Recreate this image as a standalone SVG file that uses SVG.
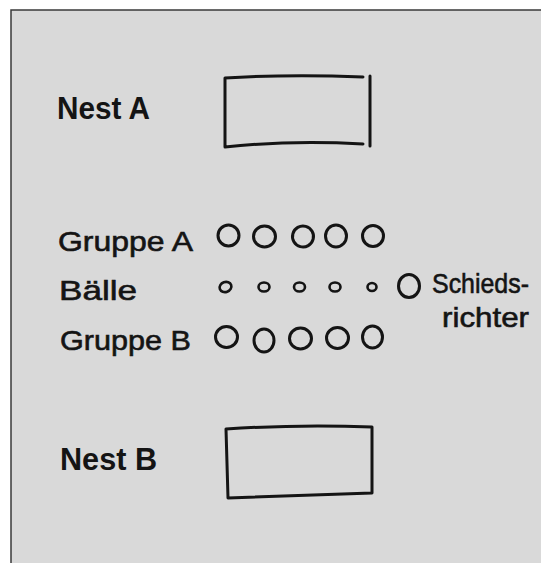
<svg xmlns="http://www.w3.org/2000/svg" width="541" height="563" viewBox="0 0 541 563">
<style>
.bg{fill:#d9d9d9}
.frame{fill:none;stroke:#3a3a3a;stroke-width:1.5}
.ink{fill:none;stroke:#141414;stroke-width:3;stroke-linecap:round;stroke-linejoin:round}
.ball{fill:none;stroke:#141414;stroke-width:2.6}
.lbl{font-family:"Liberation Sans",Arial,sans-serif;font-size:28px;fill:#141414;stroke:#141414;stroke-width:0.6}
.nest{font-family:"Liberation Sans",Arial,sans-serif;font-size:32px;font-weight:bold;fill:#141414}
</style>
<rect x="0" y="0" width="541" height="563" fill="#ffffff"/>
<rect class="bg" x="11" y="10" width="530" height="553"/>
<path class="frame" d="M11,563 V10 H541"/>

<g id="nestA">
<text class="nest" x="57" y="119" textLength="93" lengthAdjust="spacingAndGlyphs">Nest  A</text>
<path class="ink" d="M225,78 Q290,74 363,77 M225,78 L225,147 Q290,140 363,144 M370,76 L370,146"/>
</g>

<g id="gruppeA">
<text class="lbl" x="58" y="251" textLength="135" lengthAdjust="spacingAndGlyphs">Gruppe A</text>
<ellipse class="ink" cx="228.5" cy="235.5" rx="10.5" ry="10.5"/>
<ellipse class="ink" cx="264.5" cy="236.5" rx="11" ry="10.5"/>
<ellipse class="ink" cx="303" cy="236.5" rx="10.5" ry="10.5" transform="rotate(-30 303 236.5)"/>
<ellipse class="ink" cx="336" cy="236" rx="10.5" ry="11"/>
<ellipse class="ink" cx="373" cy="236" rx="10.5" ry="10.5"/>
</g>

<g id="baelle">
<text class="lbl" x="59" y="300" textLength="78" lengthAdjust="spacingAndGlyphs">Bälle</text>
<ellipse class="ball" cx="225.5" cy="287" rx="6" ry="5" transform="rotate(-20 225.5 287)"/>
<ellipse class="ball" cx="264" cy="287" rx="5.5" ry="4.5"/>
<ellipse class="ball" cx="299.5" cy="287" rx="5.5" ry="4.5"/>
<ellipse class="ball" cx="335" cy="287" rx="5.5" ry="4.5"/>
<ellipse class="ball" cx="372" cy="287" rx="4.5" ry="4"/>
</g>

<g id="schiedsrichter">
<ellipse class="ink" cx="409" cy="286" rx="10.5" ry="11.5"/>
<text class="lbl" x="432" y="293" font-size="26" textLength="97" lengthAdjust="spacingAndGlyphs">Schieds-</text>
<text class="lbl" x="442" y="327" font-size="28" textLength="87" lengthAdjust="spacingAndGlyphs">richter</text>
</g>

<g id="gruppeB">
<text class="lbl" x="60" y="350" textLength="131" lengthAdjust="spacingAndGlyphs">Gruppe B</text>
<ellipse class="ink" cx="226.5" cy="337" rx="11" ry="10.5"/>
<ellipse class="ink" cx="264" cy="340.5" rx="10" ry="11.5"/>
<ellipse class="ink" cx="300.5" cy="338.5" rx="11" ry="10.5"/>
<ellipse class="ink" cx="337.5" cy="338" rx="11" ry="10.5"/>
<ellipse class="ink" cx="372.5" cy="337" rx="10" ry="11"/>
</g>

<g id="nestB">
<text class="nest" x="60" y="470" textLength="97" lengthAdjust="spacingAndGlyphs">Nest  B</text>
<path class="ink" d="M226,429 Q300,424 372,427 L372,493 L228,498 Z"/>
</g>
</svg>
